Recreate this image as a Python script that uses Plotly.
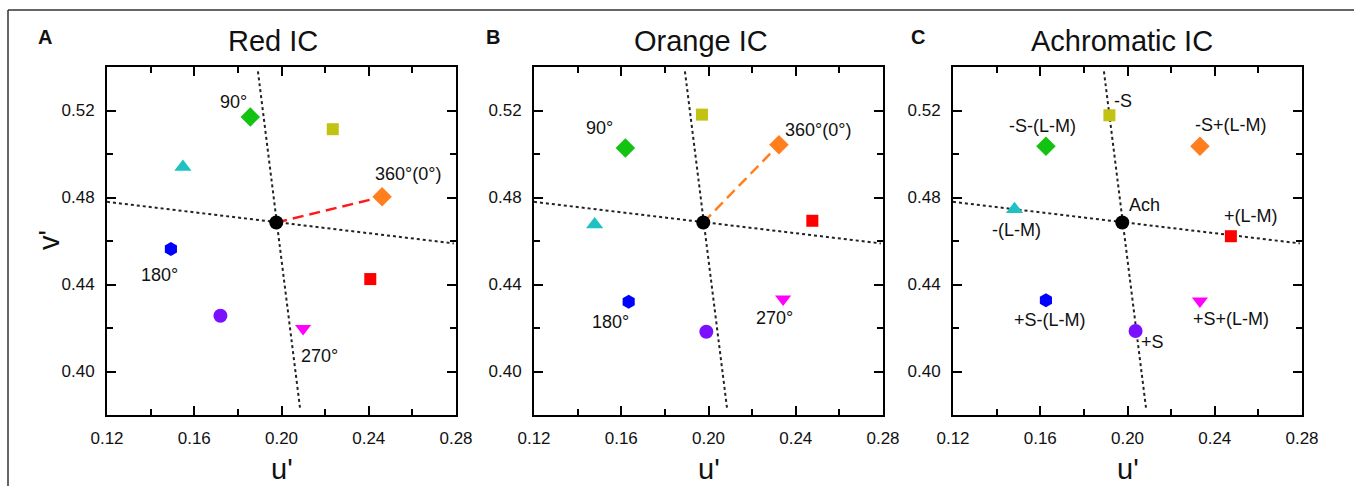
import plotly.graph_objects as go

# ---------------- data ----------------
stimuli = ["red", "orange", "yellow", "green", "cyan", "blue", "purple", "magenta"]

red_ic_u = [0.2407, 0.2461, 0.2235, 0.1857, 0.1548, 0.1493, 0.1720, 0.2099]
red_ic_v = [0.4425, 0.4803, 0.5114, 0.5170, 0.4940, 0.4563, 0.4256, 0.4198]

orange_ic_u = [0.2476, 0.2323, 0.1970, 0.1619, 0.1478, 0.1634, 0.1990, 0.2342]
orange_ic_v = [0.4693, 0.5043, 0.5181, 0.5028, 0.4676, 0.4321, 0.4183, 0.4333]

achro_ic_u = [0.2474, 0.2332, 0.1917, 0.1626, 0.1482, 0.1626, 0.2037, 0.2332]
achro_ic_v = [0.4622, 0.5036, 0.5178, 0.5036, 0.4746, 0.4328, 0.4186, 0.4324]

ach_u = 0.1976
ach_v = 0.4685

# cardinal axes through the achromatic point
lm_axis_u = [0.1200, 0.2790]
lm_axis_v = [0.4780, 0.4589]
s_axis_u = [0.1892, 0.2086]
s_axis_v = [0.5380, 0.3823]

panel_titles = ["Red IC", "Orange IC", "Achromatic IC"]
panel_letters = ["A", "B", "C"]
x_ticks = [0.12, 0.16, 0.20, 0.24, 0.28]
y_ticks = [0.40, 0.44, 0.48, 0.52]

# ---------------- styles ----------------
colors = ["#ff0000", "#ff7f1e", "#c2c212", "#12c312", "#1ec2c2", "#0000ff", "#7a10ff", "#ff00ff"]
symbols = ["square", "diamond", "square", "diamond", "triangle-up", "hexagon", "circle", "triangle-down"]
sizes = [12, 15, 12, 15, 15, 14, 14, 14]
FONT = "Arial, Liberation Sans, sans-serif"

W, H = 1354, 486
plot_px = [(107, 456), (534, 883), (953, 1302)]
top_px, bot_px = 67, 415

fig = go.Figure()

panels = [(red_ic_u, red_ic_v), (orange_ic_u, orange_ic_v), (achro_ic_u, achro_ic_v)]
dash_colors = ["#ff1a1a", "#ff8020", None]

for i, (us, vs) in enumerate(panels):
    xa = "x" if i == 0 else f"x{i+1}"
    ya = "y" if i == 0 else f"y{i+1}"
    # dotted cardinal axes
    fig.add_trace(go.Scatter(x=lm_axis_u, y=lm_axis_v, mode="lines", xaxis=xa, yaxis=ya,
                             line=dict(color="#222", width=2, dash="dot"), showlegend=False, hoverinfo="skip"))
    fig.add_trace(go.Scatter(x=s_axis_u, y=s_axis_v, mode="lines", xaxis=xa, yaxis=ya,
                             line=dict(color="#222", width=2, dash="dot"), showlegend=False, hoverinfo="skip"))
    # dashed line to the inducing colour (orange point)
    if dash_colors[i]:
        fig.add_trace(go.Scatter(x=[ach_u, us[1]], y=[ach_v, vs[1]], mode="lines", xaxis=xa, yaxis=ya,
                                 line=dict(color=dash_colors[i], width=2.5, dash="11px,6px"),
                                 showlegend=False, hoverinfo="skip"))
    # stimuli
    fig.add_trace(go.Scatter(x=us, y=vs, mode="markers", xaxis=xa, yaxis=ya, text=stimuli,
                             marker=dict(color=colors, symbol=symbols, size=sizes, opacity=1,
                                         line=dict(width=0)),
                             showlegend=False))
    # achromatic point
    fig.add_trace(go.Scatter(x=[ach_u], y=[ach_v], mode="markers", xaxis=xa, yaxis=ya,
                             marker=dict(color="black", symbol="circle", size=14, opacity=1),
                             showlegend=False))

    x0, x1 = plot_px[i]
    dom_x = [x0 / W, x1 / W]
    dom_y = [1 - bot_px / H, 1 - top_px / H]
    axcommon = dict(showline=True, mirror="ticks", linecolor="black", linewidth=2,
                    ticks="inside", ticklen=9, tickwidth=2, tickcolor="black",
                    showgrid=False, zeroline=False, tickformat=".2f", automargin=False,
                    tickfont=dict(family=FONT, size=17, color="#111"),
                    ticklabelstandoff=7,
                    minor=dict(ticks="inside", ticklen=6, tickwidth=2, tickcolor="black", dtick=0.02,
                               showgrid=False))
    xkey = "xaxis" if i == 0 else f"xaxis{i+1}"
    ykey = "yaxis" if i == 0 else f"yaxis{i+1}"
    fig.update_layout(**{
        xkey: dict(domain=dom_x, range=[0.12, 0.28], tickvals=x_ticks, anchor=ya, **axcommon),
        ykey: dict(domain=dom_y, range=[0.38, 0.54], tickvals=y_ticks, anchor=xa, **axcommon),
    })

# ---------------- text ----------------
ann = []
def lab(text, x, y, i, size=18):
    xa = "x" if i == 0 else f"x{i+1}"
    ya = "y" if i == 0 else f"y{i+1}"
    ann.append(dict(text=text, x=x, y=y, xref=xa, yref=ya, showarrow=False,
                    font=dict(family=FONT, size=size, color="#111")))

# Panel A
lab("90°", 0.1780, 0.5239, 0)
lab("360°(0°)", 0.2578, 0.4907, 0)
lab("180°", 0.1441, 0.4443, 0)
lab("270°", 0.2174, 0.4071, 0)
# Panel B
lab("90°", 0.1501, 0.5120, 1)
lab("360°(0°)", 0.2502, 0.5112, 1)
lab("180°", 0.1549, 0.4229, 1)
lab("270°", 0.2303, 0.4244, 1)
# Panel C
lab("-S", 0.1981, 0.5244, 2)
lab("-S-(L-M)", 0.1612, 0.5127, 2)
lab("-S+(L-M)", 0.2474, 0.5132, 2)
lab("Ach", 0.2080, 0.4765, 2)
lab("+(L-M)", 0.2568, 0.4714, 2)
lab("-(L-M)", 0.1493, 0.4650, 2)
lab("+S-(L-M)", 0.1645, 0.4236, 2)
lab("+S+(L-M)", 0.2476, 0.4240, 2)
lab("+S", 0.2115, 0.4137, 2)

title_cx = [273, 701, 1122]
letter_cx = [45, 493, 918]
for i in range(3):
    ann.append(dict(text=panel_titles[i], x=title_cx[i] / W, y=1 - 41 / H, xref="paper", yref="paper",
                    showarrow=False, xanchor="center", yanchor="middle",
                    font=dict(family=FONT, size=29, color="#111")))
    ann.append(dict(text="<b>" + panel_letters[i] + "</b>", x=letter_cx[i] / W, y=1 - 37 / H,
                    xref="paper", yref="paper", showarrow=False, xanchor="center", yanchor="middle",
                    font=dict(family=FONT, size=20, color="#111")))
    cx = (plot_px[i][0] + plot_px[i][1]) / 2
    ann.append(dict(text="u'", x=cx / W, y=1 - 469 / H, xref="paper", yref="paper",
                    showarrow=False, xanchor="center", yanchor="middle",
                    font=dict(family=FONT, size=29, color="#111")))
ann.append(dict(text="v'", x=49 / W, y=1 - 240 / H, xref="paper", yref="paper", textangle=-90,
                showarrow=False, xanchor="center", yanchor="middle",
                font=dict(family=FONT, size=29, color="#111")))

fig.update_layout(
    width=W, height=H, margin=dict(l=0, r=0, t=0, b=0, autoexpand=False),
    paper_bgcolor="white", plot_bgcolor="white",
    annotations=ann,
    shapes=[
        dict(type="line", xref="paper", yref="paper", x0=8 / W, x1=1, y0=1 - 10 / H, y1=1 - 10 / H,
             line=dict(color="#333", width=1.5)),
        dict(type="line", xref="paper", yref="paper", x0=8 / W, x1=8 / W, y0=0, y1=1 - 10 / H,
             line=dict(color="#333", width=1.5)),
    ],
)

fig.write_html("out.html", config={"displayModeBar": False},
               post_script="document.body.style.margin='0px';document.body.style.padding='0px';")
